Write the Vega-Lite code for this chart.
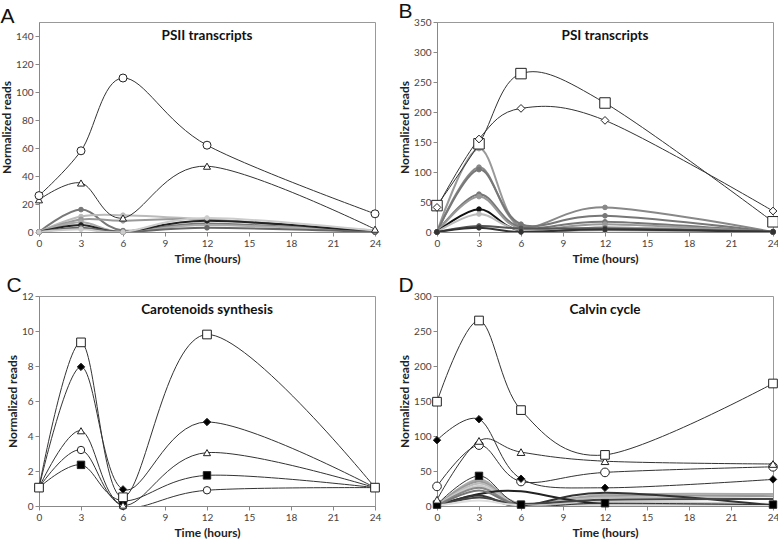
{
"$schema":"https://vega.github.io/schema/vega-lite/v6.json",
"padding":{"left":0,"top":0,"right":0,"bottom":0},
"background":"white",
"data":{"values":[
{"p":"A","s":"A_g1","t":0,"v":0},{"p":"A","s":"A_g1","t":3,"v":16},{"p":"A","s":"A_g1","t":6,"v":1},{"p":"A","s":"A_g1","t":12,"v":6},{"p":"A","s":"A_g1","t":24,"v":0},
{"p":"A","s":"A_g2","t":0,"v":0},{"p":"A","s":"A_g2","t":3,"v":11},{"p":"A","s":"A_g2","t":6,"v":12},{"p":"A","s":"A_g2","t":12,"v":9},{"p":"A","s":"A_g2","t":24,"v":1},
{"p":"A","s":"A_g3","t":0,"v":0},{"p":"A","s":"A_g3","t":3,"v":9},{"p":"A","s":"A_g3","t":6,"v":8},{"p":"A","s":"A_g3","t":12,"v":9},{"p":"A","s":"A_g3","t":24,"v":0},
{"p":"A","s":"A_g4","t":0,"v":0},{"p":"A","s":"A_g4","t":3,"v":7},{"p":"A","s":"A_g4","t":6,"v":0},{"p":"A","s":"A_g4","t":12,"v":5},{"p":"A","s":"A_g4","t":24,"v":0},
{"p":"A","s":"A_g5","t":0,"v":0},{"p":"A","s":"A_g5","t":3,"v":5},{"p":"A","s":"A_g5","t":6,"v":0},{"p":"A","s":"A_g5","t":12,"v":8},{"p":"A","s":"A_g5","t":24,"v":0},
{"p":"A","s":"A_g6","t":0,"v":0},{"p":"A","s":"A_g6","t":3,"v":3},{"p":"A","s":"A_g6","t":6,"v":0},{"p":"A","s":"A_g6","t":12,"v":3},{"p":"A","s":"A_g6","t":24,"v":0},
{"p":"A","s":"A_g7","t":0,"v":0},{"p":"A","s":"A_g7","t":3,"v":2},{"p":"A","s":"A_g7","t":6,"v":0},{"p":"A","s":"A_g7","t":12,"v":10},{"p":"A","s":"A_g7","t":24,"v":1},
{"p":"A","s":"A_tri","t":0,"v":23},{"p":"A","s":"A_tri","t":3,"v":35},{"p":"A","s":"A_tri","t":6,"v":10},{"p":"A","s":"A_tri","t":12,"v":47},{"p":"A","s":"A_tri","t":24,"v":2},
{"p":"A","s":"A_circ","t":0,"v":26},{"p":"A","s":"A_circ","t":3,"v":58},{"p":"A","s":"A_circ","t":6,"v":110},{"p":"A","s":"A_circ","t":12,"v":62},{"p":"A","s":"A_circ","t":24,"v":13},
{"p":"B","s":"B_g1","t":0,"v":0},{"p":"B","s":"B_g1","t":3,"v":139},{"p":"B","s":"B_g1","t":6,"v":5},{"p":"B","s":"B_g1","t":12,"v":8},{"p":"B","s":"B_g1","t":24,"v":0},
{"p":"B","s":"B_g2","t":0,"v":0},{"p":"B","s":"B_g2","t":3,"v":108},{"p":"B","s":"B_g2","t":6,"v":10},{"p":"B","s":"B_g2","t":12,"v":41},{"p":"B","s":"B_g2","t":24,"v":0},
{"p":"B","s":"B_g3","t":0,"v":0},{"p":"B","s":"B_g3","t":3,"v":104},{"p":"B","s":"B_g3","t":6,"v":13},{"p":"B","s":"B_g3","t":12,"v":27},{"p":"B","s":"B_g3","t":24,"v":0},
{"p":"B","s":"B_g4","t":0,"v":0},{"p":"B","s":"B_g4","t":3,"v":63},{"p":"B","s":"B_g4","t":6,"v":8},{"p":"B","s":"B_g4","t":12,"v":17},{"p":"B","s":"B_g4","t":24,"v":0},
{"p":"B","s":"B_g5","t":0,"v":0},{"p":"B","s":"B_g5","t":3,"v":59},{"p":"B","s":"B_g5","t":6,"v":5},{"p":"B","s":"B_g5","t":12,"v":13},{"p":"B","s":"B_g5","t":24,"v":0},
{"p":"B","s":"B_g6","t":0,"v":0},{"p":"B","s":"B_g6","t":3,"v":38},{"p":"B","s":"B_g6","t":6,"v":2},{"p":"B","s":"B_g6","t":12,"v":4},{"p":"B","s":"B_g6","t":24,"v":0},
{"p":"B","s":"B_g7","t":0,"v":0},{"p":"B","s":"B_g7","t":3,"v":30},{"p":"B","s":"B_g7","t":6,"v":3},{"p":"B","s":"B_g7","t":12,"v":3},{"p":"B","s":"B_g7","t":24,"v":0},
{"p":"B","s":"B_g8","t":0,"v":0},{"p":"B","s":"B_g8","t":3,"v":10},{"p":"B","s":"B_g8","t":6,"v":6},{"p":"B","s":"B_g8","t":12,"v":6},{"p":"B","s":"B_g8","t":24,"v":1},
{"p":"B","s":"B_g9","t":0,"v":0},{"p":"B","s":"B_g9","t":3,"v":7},{"p":"B","s":"B_g9","t":6,"v":0},{"p":"B","s":"B_g9","t":12,"v":4},{"p":"B","s":"B_g9","t":24,"v":0},
{"p":"B","s":"B_sq","t":0,"v":44},{"p":"B","s":"B_sq","t":3,"v":147},{"p":"B","s":"B_sq","t":6,"v":264},{"p":"B","s":"B_sq","t":12,"v":215},{"p":"B","s":"B_sq","t":24,"v":17},
{"p":"B","s":"B_dia","t":0,"v":41},{"p":"B","s":"B_dia","t":3,"v":155},{"p":"B","s":"B_dia","t":6,"v":206},{"p":"B","s":"B_dia","t":12,"v":186},{"p":"B","s":"B_dia","t":24,"v":35},
{"p":"C","s":"C_circ","t":0,"v":1.05},{"p":"C","s":"C_circ","t":3,"v":3.2},{"p":"C","s":"C_circ","t":6,"v":0.0},{"p":"C","s":"C_circ","t":12,"v":0.9},{"p":"C","s":"C_circ","t":24,"v":1.05},
{"p":"C","s":"C_fsq","t":0,"v":1.05},{"p":"C","s":"C_fsq","t":3,"v":2.35},{"p":"C","s":"C_fsq","t":6,"v":0.3},{"p":"C","s":"C_fsq","t":12,"v":1.75},{"p":"C","s":"C_fsq","t":24,"v":1.05},
{"p":"C","s":"C_tri","t":0,"v":1.05},{"p":"C","s":"C_tri","t":3,"v":4.3},{"p":"C","s":"C_tri","t":6,"v":0.05},{"p":"C","s":"C_tri","t":12,"v":3.05},{"p":"C","s":"C_tri","t":24,"v":1.05},
{"p":"C","s":"C_fdia","t":0,"v":1.05},{"p":"C","s":"C_fdia","t":3,"v":7.95},{"p":"C","s":"C_fdia","t":6,"v":0.95},{"p":"C","s":"C_fdia","t":12,"v":4.8},{"p":"C","s":"C_fdia","t":24,"v":1.05},
{"p":"C","s":"C_sq","t":0,"v":1.05},{"p":"C","s":"C_sq","t":3,"v":9.35},{"p":"C","s":"C_sq","t":6,"v":0.5},{"p":"C","s":"C_sq","t":12,"v":9.8},{"p":"C","s":"C_sq","t":24,"v":1.05},
{"p":"D","s":"D_g1","t":0,"v":0},{"p":"D","s":"D_g1","t":3,"v":38},{"p":"D","s":"D_g1","t":6,"v":3},{"p":"D","s":"D_g1","t":12,"v":16},{"p":"D","s":"D_g1","t":24,"v":17},
{"p":"D","s":"D_g2","t":0,"v":0},{"p":"D","s":"D_g2","t":3,"v":35},{"p":"D","s":"D_g2","t":6,"v":2},{"p":"D","s":"D_g2","t":12,"v":14},{"p":"D","s":"D_g2","t":24,"v":14},
{"p":"D","s":"D_g3","t":0,"v":0},{"p":"D","s":"D_g3","t":3,"v":32},{"p":"D","s":"D_g3","t":6,"v":4},{"p":"D","s":"D_g3","t":12,"v":12},{"p":"D","s":"D_g3","t":24,"v":10},
{"p":"D","s":"D_g4","t":0,"v":0},{"p":"D","s":"D_g4","t":3,"v":29},{"p":"D","s":"D_g4","t":6,"v":2},{"p":"D","s":"D_g4","t":12,"v":6},{"p":"D","s":"D_g4","t":24,"v":3},
{"p":"D","s":"D_g5","t":0,"v":0},{"p":"D","s":"D_g5","t":3,"v":26},{"p":"D","s":"D_g5","t":6,"v":1},{"p":"D","s":"D_g5","t":12,"v":3},{"p":"D","s":"D_g5","t":24,"v":1},
{"p":"D","s":"D_g6","t":0,"v":0},{"p":"D","s":"D_g6","t":3,"v":17},{"p":"D","s":"D_g6","t":6,"v":21},{"p":"D","s":"D_g6","t":12,"v":3},{"p":"D","s":"D_g6","t":24,"v":1},
{"p":"D","s":"D_g7","t":0,"v":0},{"p":"D","s":"D_g7","t":3,"v":15},{"p":"D","s":"D_g7","t":6,"v":0},{"p":"D","s":"D_g7","t":12,"v":19},{"p":"D","s":"D_g7","t":24,"v":1},
{"p":"D","s":"D_g8","t":0,"v":0},{"p":"D","s":"D_g8","t":3,"v":12},{"p":"D","s":"D_g8","t":6,"v":3},{"p":"D","s":"D_g8","t":12,"v":9},{"p":"D","s":"D_g8","t":24,"v":10},
{"p":"D","s":"D_g9","t":0,"v":0},{"p":"D","s":"D_g9","t":3,"v":22},{"p":"D","s":"D_g9","t":6,"v":1},{"p":"D","s":"D_g9","t":12,"v":2},{"p":"D","s":"D_g9","t":24,"v":0},
{"p":"D","s":"D_g10","t":0,"v":0},{"p":"D","s":"D_g10","t":3,"v":8},{"p":"D","s":"D_g10","t":6,"v":1},{"p":"D","s":"D_g10","t":12,"v":1},{"p":"D","s":"D_g10","t":24,"v":0},
{"p":"D","s":"D_fsq","t":0,"v":2},{"p":"D","s":"D_fsq","t":3,"v":43},{"p":"D","s":"D_fsq","t":6,"v":2},{"p":"D","s":"D_fsq","t":12,"v":4},{"p":"D","s":"D_fsq","t":24,"v":2},
{"p":"D","s":"D_circ","t":0,"v":28},{"p":"D","s":"D_circ","t":3,"v":87},{"p":"D","s":"D_circ","t":6,"v":35},{"p":"D","s":"D_circ","t":12,"v":48},{"p":"D","s":"D_circ","t":24,"v":56},
{"p":"D","s":"D_tri","t":0,"v":9},{"p":"D","s":"D_tri","t":3,"v":93},{"p":"D","s":"D_tri","t":6,"v":77},{"p":"D","s":"D_tri","t":12,"v":64},{"p":"D","s":"D_tri","t":24,"v":60},
{"p":"D","s":"D_fdia","t":0,"v":94},{"p":"D","s":"D_fdia","t":3,"v":124},{"p":"D","s":"D_fdia","t":6,"v":39},{"p":"D","s":"D_fdia","t":12,"v":26},{"p":"D","s":"D_fdia","t":24,"v":38},
{"p":"D","s":"D_sq","t":0,"v":149},{"p":"D","s":"D_sq","t":3,"v":265},{"p":"D","s":"D_sq","t":6,"v":137},{"p":"D","s":"D_sq","t":12,"v":73},{"p":"D","s":"D_sq","t":24,"v":175}
]},
"columns":2,
"spacing":{"column":16,"row":9},
"resolve":{"scale":{"color":"independent","stroke":"independent","fill":"independent","shape":"independent","size":"independent","strokeWidth":"independent"}},
"concat":[
{
"width":336,"height":210,
"title":{"text":"A"},
"layer":[
{"transform":[{"filter":"datum.p=='A'"}],"mark":{"type":"line","interpolate":"cardinal","clip":true},
"encoding":{
"x":{"field":"t","type":"quantitative","title":"Time (hours)","scale":{"domain":[0,24],"nice":false},"axis":{"values":[0,3,6,9,12,15,18,21,24]}},
"y":{"field":"v","type":"quantitative","title":"Normalized reads","scale":{"domain":[0,150],"nice":false},"axis":{"values":[0,20,40,60,80,100,120,140]}},
"color":{"field":"s","type":"nominal","legend":null,"scale":{"type":"ordinal","domain":["A_g1","A_g2","A_g3","A_g4","A_g5","A_g6","A_g7","A_tri","A_circ"],"range":["#777","#bbb","#999","#aaa","#222","#666","#ccc","#333","#333"]}},
"strokeWidth":{"field":"s","type":"nominal","legend":null,"scale":{"type":"ordinal","domain":["A_g1","A_g2","A_g3","A_g4","A_g5","A_g6","A_g7","A_tri","A_circ"],"range":[2,2,2,2,2,2,2,1,1]}}}},
{"transform":[{"filter":"datum.p=='A'"}],"mark":{"type":"point","filled":true,"opacity":1,"strokeWidth":1},
"encoding":{
"x":{"field":"t","type":"quantitative","title":"Time (hours)","scale":{"domain":[0,24],"nice":false},"axis":{"values":[0,3,6,9,12,15,18,21,24]}},
"y":{"field":"v","type":"quantitative","title":"Normalized reads","scale":{"domain":[0,150],"nice":false},"axis":{"values":[0,20,40,60,80,100,120,140]}},
"shape":{"field":"s","type":"nominal","legend":null,"scale":{"type":"ordinal","domain":["A_g1","A_g2","A_g3","A_g4","A_g5","A_g6","A_g7","A_tri","A_circ"],"range":["circle","circle","circle","circle","circle","circle","circle","triangle-up","circle"]}},
"fill":{"field":"s","type":"nominal","legend":null,"scale":{"type":"ordinal","domain":["A_g1","A_g2","A_g3","A_g4","A_g5","A_g6","A_g7","A_tri","A_circ"],"range":["#777","#bbb","#999","#aaa","#222","#666","#ccc","white","white"]}},
"stroke":{"field":"s","type":"nominal","legend":null,"scale":{"type":"ordinal","domain":["A_g1","A_g2","A_g3","A_g4","A_g5","A_g6","A_g7","A_tri","A_circ"],"range":["#777","#bbb","#999","#aaa","#222","#666","#ccc","#222","#222"]}},
"size":{"field":"s","type":"nominal","legend":null,"scale":{"type":"ordinal","domain":["A_g1","A_g2","A_g3","A_g4","A_g5","A_g6","A_g7","A_tri","A_circ"],"range":[22,22,22,22,22,22,22,50,64]}}}},
{"data":{"values":[{"label":"PSII transcripts"}]},"mark":{"type":"text","font":"Lato","fontSize":13.5,"fontWeight":"bold","color":"#111"},
"encoding":{
"x":{"datum":12,"type":"quantitative","title":"Time (hours)","scale":{"domain":[0,24],"nice":false},"axis":{"values":[0,3,6,9,12,15,18,21,24]}},
"y":{"datum":140,"type":"quantitative","title":"Normalized reads","scale":{"domain":[0,150],"nice":false},"axis":{"values":[0,20,40,60,80,100,120,140]}},
"text":{"field":"label"}}}
]
},
{
"width":336,"height":210,
"title":{"text":"B"},
"layer":[
{"transform":[{"filter":"datum.p=='B'"}],"mark":{"type":"line","interpolate":"cardinal","clip":true},
"encoding":{
"x":{"field":"t","type":"quantitative","title":"Time (hours)","scale":{"domain":[0,24],"nice":false},"axis":{"values":[0,3,6,9,12,15,18,21,24]}},
"y":{"field":"v","type":"quantitative","title":"Normalized reads","scale":{"domain":[0,350],"nice":false},"axis":{"values":[0,50,100,150,200,250,300,350]}},
"color":{"field":"s","type":"nominal","legend":null,"scale":{"type":"ordinal","domain":["B_g1","B_g2","B_g3","B_g4","B_g5","B_g6","B_g7","B_g8","B_g9","B_sq","B_dia"],"range":["#999","#888","#777","#777","#999","#111","#bbb","#555","#333","#333","#333"]}},
"strokeWidth":{"field":"s","type":"nominal","legend":null,"scale":{"type":"ordinal","domain":["B_g1","B_g2","B_g3","B_g4","B_g5","B_g6","B_g7","B_g8","B_g9","B_sq","B_dia"],"range":[2,2,2,2,2,2,2,2,2,1,1]}}}},
{"transform":[{"filter":"datum.p=='B'"}],"mark":{"type":"point","filled":true,"opacity":1,"strokeWidth":1},
"encoding":{
"x":{"field":"t","type":"quantitative","title":"Time (hours)","scale":{"domain":[0,24],"nice":false},"axis":{"values":[0,3,6,9,12,15,18,21,24]}},
"y":{"field":"v","type":"quantitative","title":"Normalized reads","scale":{"domain":[0,350],"nice":false},"axis":{"values":[0,50,100,150,200,250,300,350]}},
"shape":{"field":"s","type":"nominal","legend":null,"scale":{"type":"ordinal","domain":["B_g1","B_g2","B_g3","B_g4","B_g5","B_g6","B_g7","B_g8","B_g9","B_sq","B_dia"],"range":["circle","circle","circle","circle","circle","circle","circle","circle","circle","square","diamond"]}},
"fill":{"field":"s","type":"nominal","legend":null,"scale":{"type":"ordinal","domain":["B_g1","B_g2","B_g3","B_g4","B_g5","B_g6","B_g7","B_g8","B_g9","B_sq","B_dia"],"range":["#999","#888","#777","#777","#999","#111","#bbb","#555","#333","white","white"]}},
"stroke":{"field":"s","type":"nominal","legend":null,"scale":{"type":"ordinal","domain":["B_g1","B_g2","B_g3","B_g4","B_g5","B_g6","B_g7","B_g8","B_g9","B_sq","B_dia"],"range":["#999","#888","#777","#777","#999","#111","#bbb","#555","#333","#222","#222"]}},
"size":{"field":"s","type":"nominal","legend":null,"scale":{"type":"ordinal","domain":["B_g1","B_g2","B_g3","B_g4","B_g5","B_g6","B_g7","B_g8","B_g9","B_sq","B_dia"],"range":[22,22,22,22,22,22,22,22,22,110,60]}}}},
{"data":{"values":[{"label":"PSI transcripts"}]},"mark":{"type":"text","font":"Lato","fontSize":13.5,"fontWeight":"bold","color":"#111"},
"encoding":{
"x":{"datum":12,"type":"quantitative","title":"Time (hours)","scale":{"domain":[0,24],"nice":false},"axis":{"values":[0,3,6,9,12,15,18,21,24]}},
"y":{"datum":326,"type":"quantitative","title":"Normalized reads","scale":{"domain":[0,350],"nice":false},"axis":{"values":[0,50,100,150,200,250,300,350]}},
"text":{"field":"label"}}}
]
},
{
"width":336,"height":210,
"title":{"text":"C"},
"layer":[
{"transform":[{"filter":"datum.p=='C'"}],"mark":{"type":"line","interpolate":"cardinal","clip":true,"strokeWidth":1,"stroke":"#333"},
"encoding":{
"x":{"field":"t","type":"quantitative","title":"Time (hours)","scale":{"domain":[0,24],"nice":false},"axis":{"values":[0,3,6,9,12,15,18,21,24]}},
"y":{"field":"v","type":"quantitative","title":"Normalized reads","scale":{"domain":[0,12],"nice":false},"axis":{"values":[0,2,4,6,8,10,12]}},
"detail":{"field":"s","type":"nominal"}}},
{"transform":[{"filter":"datum.p=='C'"}],"mark":{"type":"point","filled":true,"opacity":1,"strokeWidth":1,"stroke":"#222"},
"encoding":{
"x":{"field":"t","type":"quantitative","title":"Time (hours)","scale":{"domain":[0,24],"nice":false},"axis":{"values":[0,3,6,9,12,15,18,21,24]}},
"y":{"field":"v","type":"quantitative","title":"Normalized reads","scale":{"domain":[0,12],"nice":false},"axis":{"values":[0,2,4,6,8,10,12]}},
"shape":{"field":"s","type":"nominal","legend":null,"scale":{"type":"ordinal","domain":["C_circ","C_fsq","C_tri","C_fdia","C_sq"],"range":["circle","square","triangle-up","diamond","square"]}},
"fill":{"field":"s","type":"nominal","legend":null,"scale":{"type":"ordinal","domain":["C_circ","C_fsq","C_tri","C_fdia","C_sq"],"range":["white","black","white","black","white"]}},
"size":{"field":"s","type":"nominal","legend":null,"scale":{"type":"ordinal","domain":["C_circ","C_fsq","C_tri","C_fdia","C_sq"],"range":[55,55,50,55,75]}}}},
{"data":{"values":[{"label":"Carotenoids  synthesis"}]},"mark":{"type":"text","font":"Lato","fontSize":13.5,"fontWeight":"bold","color":"#111"},
"encoding":{
"x":{"datum":12,"type":"quantitative","title":"Time (hours)","scale":{"domain":[0,24],"nice":false},"axis":{"values":[0,3,6,9,12,15,18,21,24]}},
"y":{"datum":11.2,"type":"quantitative","title":"Normalized reads","scale":{"domain":[0,12],"nice":false},"axis":{"values":[0,2,4,6,8,10,12]}},
"text":{"field":"label"}}}
]
},
{
"width":336,"height":210,
"title":{"text":"D"},
"layer":[
{"transform":[{"filter":"datum.p=='D'"}],"mark":{"type":"line","interpolate":"cardinal","clip":true},
"encoding":{
"x":{"field":"t","type":"quantitative","title":"Time (hours)","scale":{"domain":[0,24],"nice":false},"axis":{"values":[0,3,6,9,12,15,18,21,24]}},
"y":{"field":"v","type":"quantitative","title":"Normalized reads","scale":{"domain":[0,300],"nice":false},"axis":{"values":[0,50,100,150,200,250,300]}},
"color":{"field":"s","type":"nominal","legend":null,"scale":{"type":"ordinal","domain":["D_g1","D_g2","D_g3","D_g4","D_g5","D_g6","D_g7","D_g8","D_g9","D_g10","D_fsq","D_circ","D_tri","D_fdia","D_sq"],"range":["#aaa","#999","#bbb","#ccc","#888","#222","#333","#444","#777","#ddd","#333","#333","#333","#333","#333"]}},
"strokeWidth":{"field":"s","type":"nominal","legend":null,"scale":{"type":"ordinal","domain":["D_g1","D_g2","D_g3","D_g4","D_g5","D_g6","D_g7","D_g8","D_g9","D_g10","D_fsq","D_circ","D_tri","D_fdia","D_sq"],"range":[2,2,2,2,2,2,2,2,2,2,1,1,1,1,1]}}}},
{"transform":[{"filter":"datum.p=='D'"},{"filter":{"field":"s","oneOf":["D_fsq","D_circ","D_tri","D_fdia","D_sq"]}}],"mark":{"type":"point","filled":true,"opacity":1,"strokeWidth":1,"stroke":"#222"},
"encoding":{
"x":{"field":"t","type":"quantitative","title":"Time (hours)","scale":{"domain":[0,24],"nice":false},"axis":{"values":[0,3,6,9,12,15,18,21,24]}},
"y":{"field":"v","type":"quantitative","title":"Normalized reads","scale":{"domain":[0,300],"nice":false},"axis":{"values":[0,50,100,150,200,250,300]}},
"shape":{"field":"s","type":"nominal","legend":null,"scale":{"type":"ordinal","domain":["D_fsq","D_circ","D_tri","D_fdia","D_sq"],"range":["square","circle","triangle-up","diamond","square"]}},
"fill":{"field":"s","type":"nominal","legend":null,"scale":{"type":"ordinal","domain":["D_fsq","D_circ","D_tri","D_fdia","D_sq"],"range":["black","white","white","black","white"]}},
"size":{"field":"s","type":"nominal","legend":null,"scale":{"type":"ordinal","domain":["D_fsq","D_circ","D_tri","D_fdia","D_sq"],"range":[55,75,60,55,75]}}}},
{"data":{"values":[{"label":"Calvin  cycle"}]},"mark":{"type":"text","font":"Lato","fontSize":13.5,"fontWeight":"bold","color":"#111"},
"encoding":{
"x":{"datum":12,"type":"quantitative","title":"Time (hours)","scale":{"domain":[0,24],"nice":false},"axis":{"values":[0,3,6,9,12,15,18,21,24]}},
"y":{"datum":280,"type":"quantitative","title":"Normalized reads","scale":{"domain":[0,300],"nice":false},"axis":{"values":[0,50,100,150,200,250,300]}},
"text":{"field":"label"}}}
]
}
],
"config":{
"font":"Lato",
"view":{"stroke":"#999","strokeWidth":1},
"axis":{"grid":false,"labelFont":"Lato","labelFontSize":10,"labelColor":"#444","labelFlush":false,"titleFont":"Lato","titleFontSize":12,"titleFontWeight":"bold","titleColor":"#222","domainColor":"#888","tickColor":"#888","tickSize":4,"labelPadding":2},
"axisX":{"titlePadding":5},
"axisY":{"titlePadding":2},
"title":{"anchor":"start","frame":"bounds","font":"Liberation Sans","fontSize":21,"fontWeight":"normal","color":"#111","offset":-5}
}
}
